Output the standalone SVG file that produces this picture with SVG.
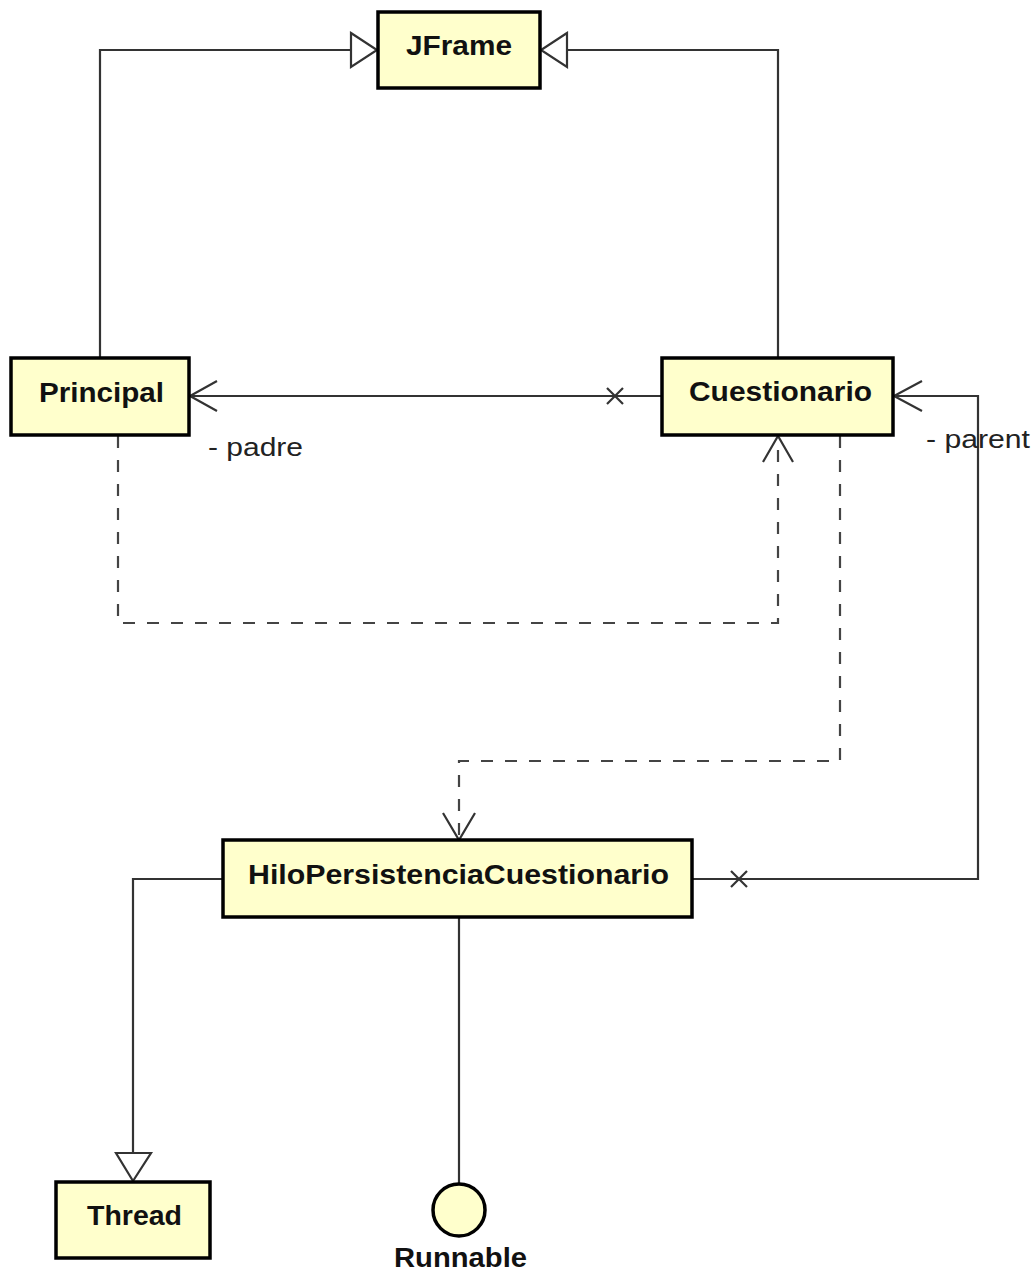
<svg xmlns="http://www.w3.org/2000/svg" width="1036" height="1272" viewBox="0 0 1036 1272">
<style>
.box{fill:#ffffcc;stroke:#000;stroke-width:3.5}
.lbl{font-family:"Liberation Sans",Arial,sans-serif;font-weight:bold;font-size:27px;fill:#111}
.role{font-family:"Liberation Sans",Arial,sans-serif;font-size:26px;fill:#222}
.ln{fill:none;stroke:#333;stroke-width:2.2}
.dash{fill:none;stroke:#444;stroke-width:2.2;stroke-dasharray:12 12}
.tri{fill:#fff;stroke:#333;stroke-width:2.2}
.open{fill:none;stroke:#333;stroke-width:2.2}
</style>
<rect width="1036" height="1272" fill="#fff"/>
<g id="connectors">
  <!-- Principal -> JFrame generalization -->
  <polyline class="ln" points="100,358 100,50 351,50"/>
  <polygon class="tri" points="351,33 377,50 351,67"/>
  <!-- Cuestionario -> JFrame generalization -->
  <polyline class="ln" points="778,358 778,50 567,50"/>
  <polygon class="tri" points="567,33 541,50 567,67"/>
  <!-- Cuestionario -> Principal association (padre) -->
  <line class="ln" x1="662" y1="396" x2="190" y2="396"/>
  <polyline class="open" points="217,381 190,396 217,411"/>
  <path class="ln" d="M607,388 L623,404 M623,388 L607,404"/>
  <text class="role" x="208" y="456" textLength="95" lengthAdjust="spacingAndGlyphs">- padre</text>
  <!-- Principal -> Cuestionario dependency -->
  <polyline class="dash" points="118,436 118,623 778,623 778,437"/>
  <polyline class="open" points="763,462 778,436 793,462"/>
  <!-- Cuestionario -> Hilo dependency -->
  <polyline class="dash" points="840,436 840,761 459,761 459,839"/>
  <polyline class="open" points="443,813 459,840 475,813"/>
  <!-- Hilo -> Cuestionario association (parent) -->
  <polyline class="ln" points="692,879 978,879 978,396 894,396"/>
  <polyline class="open" points="922,381 894,396 922,411"/>
  <path class="ln" d="M731,871 L747,887 M747,871 L731,887"/>
  <text class="role" x="926" y="448" textLength="104" lengthAdjust="spacingAndGlyphs">- parent</text>
  <!-- Hilo -> Thread generalization -->
  <polyline class="ln" points="223,879 133,879 133,1153"/>
  <polygon class="tri" points="116,1153 151,1153 133,1181"/>
  <!-- Hilo -> Runnable realization (lollipop) -->
  <line class="ln" x1="459" y1="917" x2="459" y2="1183"/>
</g>
<g id="JFrame">
  <rect class="box" x="378" y="12" width="162" height="76"/>
  <text class="lbl" x="406" y="55" textLength="106" lengthAdjust="spacingAndGlyphs">JFrame</text>
</g>
<g id="Principal">
  <rect class="box" x="11" y="358" width="178" height="77"/>
  <text class="lbl" x="39" y="402" textLength="125" lengthAdjust="spacingAndGlyphs">Principal</text>
</g>
<g id="Cuestionario">
  <rect class="box" x="662" y="358" width="231" height="77"/>
  <text class="lbl" x="689" y="401" textLength="183" lengthAdjust="spacingAndGlyphs">Cuestionario</text>
</g>
<g id="HiloPersistenciaCuestionario">
  <rect class="box" x="223" y="840" width="469" height="77"/>
  <text class="lbl" x="248" y="884" textLength="421" lengthAdjust="spacingAndGlyphs">HiloPersistenciaCuestionario</text>
</g>
<g id="Thread">
  <rect class="box" x="56" y="1182" width="154" height="76"/>
  <text class="lbl" x="87" y="1225" textLength="95" lengthAdjust="spacingAndGlyphs">Thread</text>
</g>
<g id="Runnable">
  <circle class="box" cx="459" cy="1210" r="26"/>
  <text class="lbl" x="394" y="1267" textLength="133" lengthAdjust="spacingAndGlyphs">Runnable</text>
</g>
</svg>
